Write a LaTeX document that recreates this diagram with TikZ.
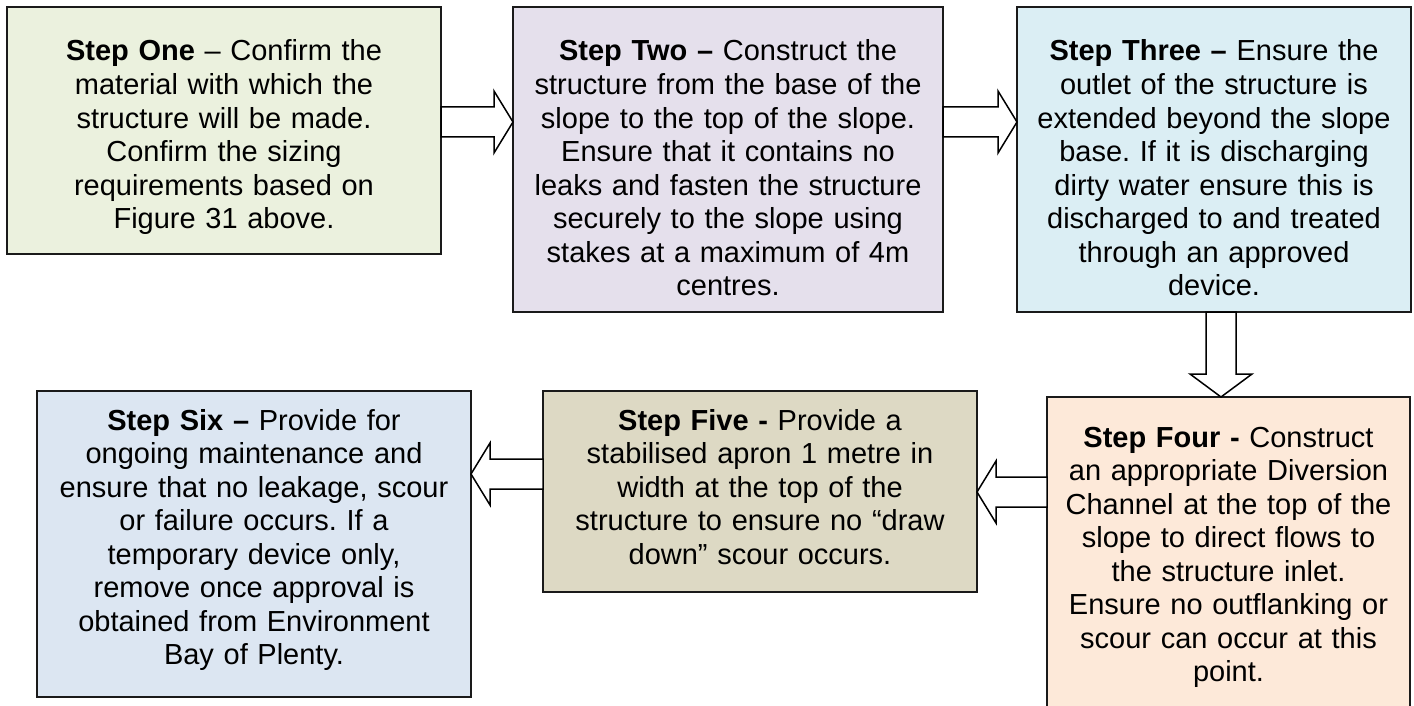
\documentclass[tikz,border=0pt]{standalone}
\usepackage{fontspec}
\setmainfont{Liberation Sans}
\usetikzlibrary{calc}
\frenchspacing

\definecolor{fillone}{HTML}{EBF1DE}
\definecolor{filltwo}{HTML}{E5E0EC}
\definecolor{fillthree}{HTML}{DBEEF4}
\definecolor{fillfour}{HTML}{FDE9D9}
\definecolor{fillfive}{HTML}{DDD9C4}
\definecolor{fillsix}{HTML}{DCE6F2}
\definecolor{edgeline}{HTML}{1A1A1A}

\tikzset{
  stepbox/.style={draw=edgeline, line width=1pt, inner sep=0pt, outer sep=0pt},
  steptext/.style={text width=#1, align=center, inner sep=0pt, anchor=base,
    font=\fontsize{14.5pt}{16.78pt}\selectfont},
  blockarrow/.style={draw=black, line width=0.75pt, fill=white, line join=miter},
}

% horizontal block arrow from a start point to its tip
\newcommand\flowarrowh[2]{%
  \draw[blockarrow] let \p1=(#1), \p2=(#2), \n1={sign(\x2-\x1)} in
    (\x1,\y1+7.5pt) -- (\x2-\n1*9.5pt,\y1+7.5pt) -- (\x2-\n1*9.5pt,\y1+15.5pt)
    -- (\x2,\y1) -- (\x2-\n1*9.5pt,\y1-15.5pt) -- (\x2-\n1*9.5pt,\y1-7.5pt)
    -- (\x1,\y1-7.5pt) -- cycle;}
% vertical block arrow from a start point to its tip
\newcommand\flowarrowv[2]{%
  \draw[blockarrow] let \p1=(#1), \p2=(#2), \n1={sign(\y2-\y1)} in
    (\x1+7.5pt,\y1) -- (\x1+7.5pt,\y2-\n1*11.5pt) -- (\x1+15.5pt,\y2-\n1*11.5pt)
    -- (\x1,\y2) -- (\x1-15.5pt,\y2-\n1*11.5pt) -- (\x1-7.5pt,\y2-\n1*11.5pt)
    -- (\x1-7.5pt,\y1) -- cycle;}

\begin{document}
\begin{tikzpicture}[x=0.5pt, y=-0.5pt]
\useasboundingbox (0,0) rectangle (1414,706);
\clip (0,0) rectangle (1414,706);

% step boxes
\node[stepbox, fill=fillone,   minimum width=217pt,   minimum height=123.5pt] (one)   at (224,130.5) {};
\node[stepbox, fill=filltwo,   minimum width=215pt,   minimum height=152.5pt] (two)   at (728,159.5) {};
\node[stepbox, fill=fillthree, minimum width=197pt,   minimum height=152.5pt] (three) at (1214,159.5) {};
\node[stepbox, fill=fillfour,  minimum width=181.5pt, minimum height=157.5pt] (four)  at (1228.5,554.5) {};
\node[stepbox, fill=fillfive,  minimum width=217pt,   minimum height=100.5pt] (five)  at (760,491.5) {};
\node[stepbox, fill=fillsix,   minimum width=217pt,   minimum height=153pt]   (six)   at (254,544) {};

% step texts
\node[steptext=200pt] (one-t) at ($(one.north)+(0,54)$)
  {\textbf{Step One} – Confirm the\\ material with which the\\ structure will be made.\\
   Confirm the sizing\\ requirements based on\\ Figure 31 above.};
\node[steptext=200pt] (two-t) at ($(two.north)+(0,54)$)
  {\textbf{Step Two –} Construct the\\ structure from the base of the\\ slope to the top of the slope.\\
   Ensure that it contains no\\ leaks and fasten the structure\\ securely to the slope using\\
   stakes at a maximum of 4m\\ centres.};
\node[steptext=188pt] (three-t) at ($(three.north)+(0,54)$)
  {\textbf{Step Three –} Ensure the\\ outlet of the structure is\\ extended beyond the slope\\
   base. If it is discharging\\ dirty water ensure this is\\ discharged to and treated\\
   through an approved\\ device.};
\node[steptext=174pt] (four-t) at ($(four.north)+(0,50)$)
  {\textbf{Step Four -} Construct\\ an appropriate Diversion\\ Channel at the top of the\\
   slope to direct flows to\\ the structure inlet.\\ Ensure no outflanking or\\
   scour can occur at this\\ point.};
\node[steptext=200pt] (five-t) at ($(five.north)+(0,39)$)
  {\textbf{Step Five -} Provide a\\ stabilised apron 1 metre in\\ width at the top of the\\
   structure to ensure no “draw\\ down” scour occurs.};
\node[steptext=200pt] (six-t) at ($(six.north)+(0,39)$)
  {\textbf{Step Six –} Provide for\\ ongoing maintenance and\\ ensure that no leakage, scour\\
   or failure occurs. If a\\ temporary device only,\\ remove once approval is\\
   obtained from Environment\\ Bay of Plenty.};

% arrow rows and column
\coordinate (r1) at (0,122);
\coordinate (c3) at (1221,0);
\coordinate (r4) at (0,492);
\coordinate (r5) at (0,474);

% connectors
\flowarrowh{one.east |- r1}{two.west |- r1}
\flowarrowh{two.east |- r1}{three.west |- r1}
\flowarrowv{three.south -| c3}{four.north -| c3}
\flowarrowh{four.west |- r4}{five.east |- r4}
\flowarrowh{five.west |- r5}{six.east |- r5}
\end{tikzpicture}
\end{document}
